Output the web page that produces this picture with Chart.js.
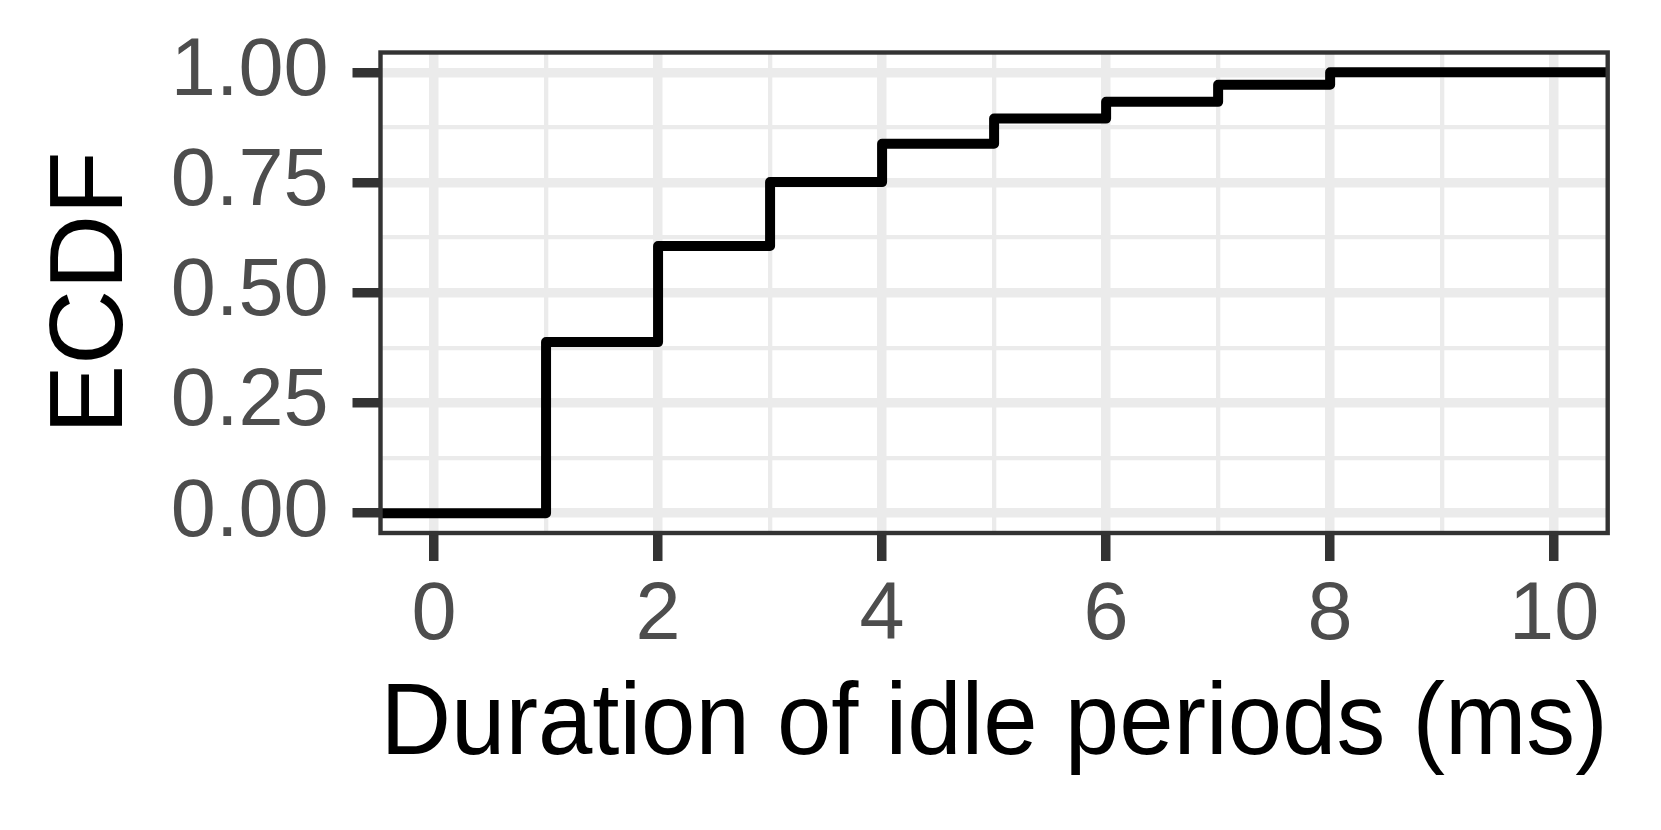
<!DOCTYPE html>
<html>
<head>
<meta charset="utf-8">
<script src="https://cdn.jsdelivr.net/npm/chart.js@4"></script>
<style>
  html, body { margin: 0; padding: 0; background: #fff; }
  canvas { display: block; }
</style>
</head>
<body>
<canvas id="ecdfChart" width="1661" height="830"></canvas>
<script>
// ECDF of idle period durations
const durations = [1, 2, 3, 4, 5, 6, 7, 8];
const ecdfValues = [0.388, 0.606, 0.751, 0.838, 0.895, 0.933, 0.972, 1.0];

const xTicks = [0, 2, 4, 6, 8, 10];
const xMinor = [1, 3, 5, 7, 9];
const yTicks = [0, 0.25, 0.5, 0.75, 1];
const yTickLabels = ["0.00", "0.25", "0.50", "0.75", "1.00"];
const yMinor = [0.125, 0.375, 0.625, 0.875];

const xMin = -0.478, xMax = 10.478;
const yMin = -0.045, yMax = 1.045;

// step line runs from panel edge to panel edge
const points = [{x: xMin, y: 0}]
  .concat(durations.map((d, i) => ({x: d, y: ecdfValues[i]})))
  .concat([{x: xMax, y: ecdfValues[ecdfValues.length - 1]}]);

const fontFamily = "'Liberation Sans', Arial, Helvetica, sans-serif";

// panel border on top of everything
const panelBorder = {
  id: 'panelBorder',
  afterDraw(chart) {
    const {ctx, chartArea: a} = chart;
    ctx.save();
    ctx.strokeStyle = '#333333';
    ctx.lineWidth = 4.4;
    ctx.strokeRect(a.left, a.top, a.right - a.left, a.bottom - a.top);
    ctx.restore();
  }
};

const isMajorX = v => xTicks.includes(v);
const isMajorY = v => yTicks.includes(v);

const ctx = document.getElementById('ecdfChart').getContext('2d');
new Chart(ctx, {
  type: 'line',
  data: {
    datasets: [{
      data: points,
      stepped: true,
      borderColor: '#000000',
      borderWidth: 10,
      borderJoinStyle: 'round',
      pointRadius: 0,
      fill: false,
      tension: 0
    }]
  },
  plugins: [panelBorder],
  options: {
    responsive: false,
    animation: false,
    devicePixelRatio: 1,
    layout: { padding: { left: 0, top: 52.5, right: 53.3, bottom: 0 } },
    plugins: { legend: { display: false }, tooltip: { enabled: false } },
    scales: {
      x: {
        type: 'linear',
        min: xMin,
        max: xMax,
        afterBuildTicks: s => { s.ticks = xTicks.concat(xMinor).sort((a, b) => a - b).map(v => ({value: v})); },
        afterFit: s => { s.height = 297; s.paddingLeft = 0; s.paddingRight = 0; },
        border: { display: false },
        grid: {
          color: '#EBEBEB',
          lineWidth: c => isMajorX(c.tick.value) ? 9.5 : 4.3,
          tickColor: c => isMajorX(c.tick.value) ? '#333333' : 'rgba(0,0,0,0)',
          tickWidth: 9.5,
          tickLength: 28
        },
        ticks: {
          autoSkip: false,
          maxRotation: 0,
          padding: 7,
          color: '#4D4D4D',
          font: { family: fontFamily, size: 81 },
          callback: v => isMajorX(v) ? String(v) : ''
        },
        title: {
          display: true,
          text: 'Duration of idle periods (ms)',
          color: '#000000',
          font: { family: fontFamily, size: 102 },
          padding: { top: 0, bottom: 43 }
        }
      },
      y: {
        type: 'linear',
        min: yMin,
        max: yMax,
        afterBuildTicks: s => { s.ticks = yTicks.concat(yMinor).sort((a, b) => a - b).map(v => ({value: v})); },
        afterFit: s => { s.width = 380.5; s.paddingTop = 0; s.paddingBottom = 0; },
        border: { display: false },
        grid: {
          color: '#EBEBEB',
          lineWidth: c => isMajorY(c.tick.value) ? 9.5 : 4.3,
          tickColor: c => isMajorY(c.tick.value) ? '#333333' : 'rgba(0,0,0,0)',
          tickWidth: 9.5,
          tickLength: 28
        },
        ticks: {
          autoSkip: false,
          padding: 24,
          color: '#4D4D4D',
          font: { family: fontFamily, size: 81 },
          callback: v => isMajorY(v) ? yTickLabels[yTicks.indexOf(v)] : ''
        },
        title: {
          display: true,
          text: 'ECDF',
          color: '#000000',
          font: { family: fontFamily, size: 104 },
          padding: { top: 31, bottom: 0 }
        }
      }
    }
  }
});
</script>
</body>
</html>
